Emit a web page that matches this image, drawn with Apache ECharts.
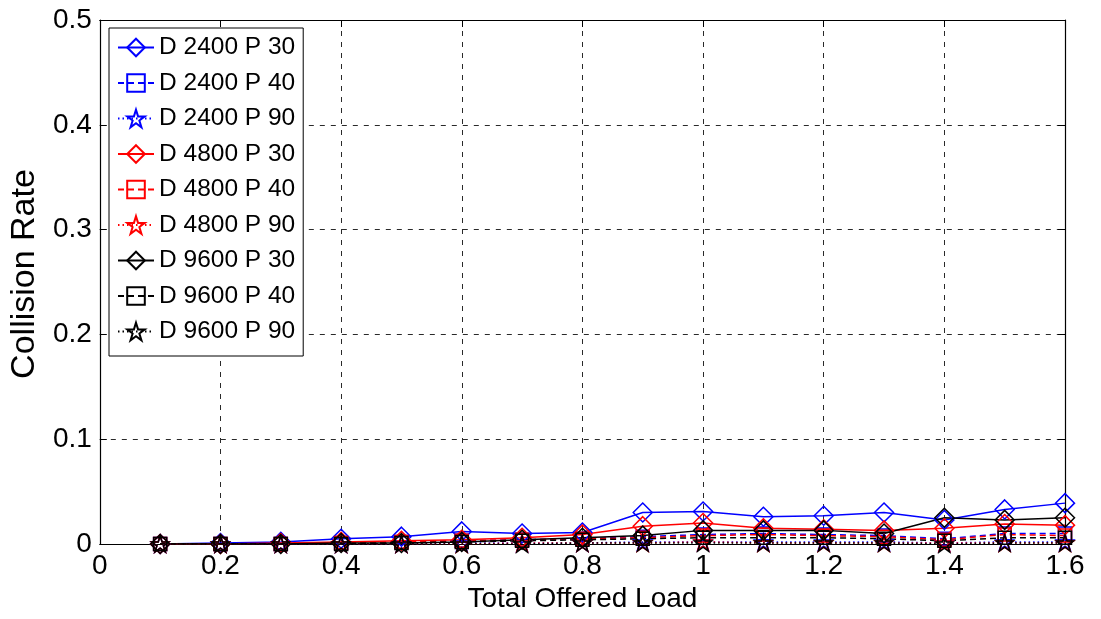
<!DOCTYPE html>
<html>
<head>
<meta charset="utf-8">
<script src="https://cdn.jsdelivr.net/npm/echarts@6/dist/echarts.min.js"></script>
<style>
  html, body { margin: 0; padding: 0; background: #fff; }
  #chart { width: 1101px; height: 619px; }
</style>
</head>
<body>
<div id="chart"></div>
<script>
// Total offered load (x)
const loads = [0.1, 0.2, 0.3, 0.4, 0.5, 0.6, 0.7, 0.8, 0.9, 1.0, 1.1, 1.2, 1.3, 1.4, 1.5, 1.6];

// Collision rate per data rate (D) and packet size (P)
const d2400p30 = [0, 0.001, 0.002, 0.005, 0.007, 0.012, 0.010, 0.011, 0.030, 0.031, 0.026, 0.027, 0.030, 0.023, 0.033, 0.039];
const d2400p40 = [0, 0, 0, 0.001, 0.002, 0.003, 0.004, 0.005, 0.007, 0.009, 0.010, 0.009, 0.008, 0.005, 0.010, 0.010];
const d2400p90 = [0, 0, 0, 0, 0, 0.001, 0.001, 0.001, 0.002, 0.002, 0.002, 0.002, 0.002, 0.001, 0.002, 0.002];
const d4800p30 = [0, 0, 0.001, 0.002, 0.003, 0.004, 0.006, 0.009, 0.017, 0.020, 0.015, 0.014, 0.013, 0.015, 0.019, 0.018];
const d4800p40 = [0, 0, 0, 0.001, 0.002, 0.003, 0.004, 0.005, 0.006, 0.008, 0.009, 0.008, 0.007, 0.004, 0.009, 0.008];
const d4800p90 = [0, 0, 0, 0, 0, 0, 0.001, 0.001, 0.001, 0.002, 0.001, 0.001, 0.001, 0.001, 0.001, 0.001];
const d9600p30 = [0, 0, 0, 0.001, 0.001, 0.002, 0.004, 0.006, 0.008, 0.013, 0.013, 0.013, 0.010, 0.025, 0.023, 0.025];
const d9600p40 = [0, 0, 0, 0, 0.001, 0.002, 0.003, 0.004, 0.005, 0.006, 0.006, 0.006, 0.005, 0.003, 0.006, 0.006];
const d9600p90 = [0, 0, 0, 0, 0, 0, 0, 0.001, 0.001, 0.001, 0.001, 0.001, 0.001, 0, 0.001, 0.001];

const xTicks = { min: 0, max: 1.6, interval: 0.2 };
const yTicks = { min: 0, max: 0.5, interval: 0.1 };

const FONT = 'Liberation Sans, Arial, Helvetica, sans-serif';
const STAR = 'path://M50,2 L61.2,36.2 L97.6,36.2 L68.2,57.6 L79.4,92 L50,70.8 L20.6,92 L31.8,57.6 L2.4,36.2 L38.8,36.2 Z';

const markers = {
  diamond: { symbol: 'diamond', size: 19 },
  square: { symbol: 'rect', size: 13 },
  star: { symbol: STAR, size: 17 }
};
const dashes = { solid: 'solid', dashed: [6, 4], dotted: [1.5, 3] };

function makeSeries(name, values, color, dash, marker) {
  return {
    name: name,
    type: 'line',
    data: loads.map((x, i) => [x, values[i]]),
    symbol: markers[marker].symbol,
    symbolSize: markers[marker].size,
    symbolKeepAspect: true,
    showAllSymbol: true,
    lineStyle: { color: color, width: 1.5, type: dashes[dash] },
    itemStyle: { color: 'rgba(255,255,255,0)', borderColor: color, borderWidth: 1.5 },
    emphasis: { disabled: true },
    animation: false
  };
}

const seriesList = [
  makeSeries('D 2400 P 30', d2400p30, '#0000ff', 'solid', 'diamond'),
  makeSeries('D 2400 P 40', d2400p40, '#0000ff', 'dashed', 'square'),
  makeSeries('D 2400 P 90', d2400p90, '#0000ff', 'dotted', 'star'),
  makeSeries('D 4800 P 30', d4800p30, '#ff0000', 'solid', 'diamond'),
  makeSeries('D 4800 P 40', d4800p40, '#ff0000', 'dashed', 'square'),
  makeSeries('D 4800 P 90', d4800p90, '#ff0000', 'dotted', 'star'),
  makeSeries('D 9600 P 30', d9600p30, '#000000', 'solid', 'diamond'),
  makeSeries('D 9600 P 40', d9600p40, '#000000', 'dashed', 'square'),
  makeSeries('D 9600 P 90', d9600p90, '#000000', 'dotted', 'star')
];

const chart = echarts.init(document.getElementById('chart'), null, { renderer: 'canvas' });

const gridLine = { show: true, lineStyle: { color: '#2a2a2a', width: 1, type: [5, 6] } };
const tickIn = { show: true, inside: true, length: 7, lineStyle: { color: '#000', width: 1 } };
const axisLineBlack = { show: true, onZero: false, lineStyle: { color: '#000', width: 1.2 } };

chart.setOption({
  backgroundColor: '#fff',
  animation: false,
  textStyle: { fontFamily: FONT },
  grid: { left: 91, right: 36, top: 20, bottom: 75, show: false },
  legend: {
    orient: 'vertical',
    left: 109,
    top: 28,
    padding: [7, 8, 12, 8],
    itemGap: 10.5,
    itemWidth: 36,
    itemHeight: 22,
    backgroundColor: '#fff',
    borderColor: '#000',
    borderWidth: 1,
    selectedMode: false,
    textStyle: { fontSize: 24.5, color: '#000', fontFamily: FONT },
    data: seriesList.map(s => s.name)
  },
  xAxis: [
    {
      type: 'value', min: xTicks.min, max: xTicks.max, interval: xTicks.interval,
      position: 'bottom',
      name: 'Total Offered Load', nameLocation: 'middle', nameGap: 41,
      nameTextStyle: { fontSize: 28, color: '#000', fontFamily: FONT },
      axisLine: axisLineBlack, axisTick: tickIn,
      axisLabel: { fontSize: 28, color: '#000', margin: 8, fontFamily: FONT },
      splitLine: gridLine
    },
    {
      type: 'value', min: xTicks.min, max: xTicks.max, interval: xTicks.interval,
      position: 'top',
      axisLine: axisLineBlack, axisTick: tickIn,
      axisLabel: { show: false }, splitLine: { show: false }
    }
  ],
  yAxis: [
    {
      type: 'value', min: yTicks.min, max: yTicks.max, interval: yTicks.interval,
      position: 'left',
      name: 'Collision Rate', nameLocation: 'middle', nameGap: 41,
      nameTextStyle: { fontSize: 34, color: '#000', fontFamily: FONT, padding: [0, 0, 0, 16] },
      axisLine: axisLineBlack, axisTick: tickIn,
      axisLabel: { fontSize: 28, color: '#000', margin: 8, fontFamily: FONT },
      splitLine: gridLine
    },
    {
      type: 'value', min: yTicks.min, max: yTicks.max, interval: yTicks.interval,
      position: 'right',
      axisLine: axisLineBlack, axisTick: tickIn,
      axisLabel: { show: false }, splitLine: { show: false }
    }
  ],
  series: seriesList
});
</script>
</body>
</html>
